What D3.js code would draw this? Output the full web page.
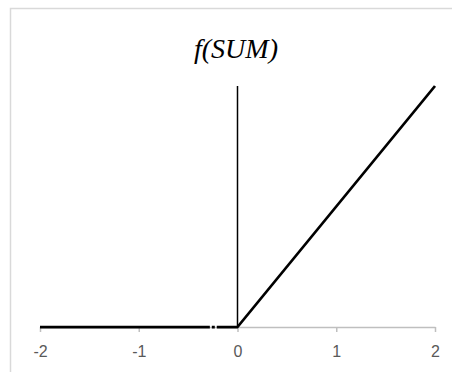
<!DOCTYPE html>
<html>
<head>
<meta charset="utf-8">
<script src="https://cdn.jsdelivr.net/npm/d3@7"></script>
<style>
  body { margin: 0; background: #fff; }
</style>
</head>
<body>
<div id="container"></div>
<script>
let w = 452;
let h = 372;

// data
let sumValues = [-2, -0.28, null, -0.26, -0.23, null, -0.21, 0, 1, 2];
let fValues   = [0, 0, null, 0, 0, null, 0, 0, 1, 2];
let axisLineX = [0, 0];
let axisLineY = [0, 2];
let xTicks = [-2, -1, 0, 1, 2];
let chartTitle = "f(SUM)";

let viz = d3.select("#container")
  .append("svg")
    .attr("width", w)
    .attr("height", h)
;

// chart border (runs off the right and bottom)
viz.append("rect")
  .attr("x", 10.5)
  .attr("y", 8.5)
  .attr("width", 460)
  .attr("height", 380)
  .attr("fill", "white")
  .attr("stroke", "#d9d9d9")
  .attr("stroke-width", 1.5)
;

let xScale = d3.scaleLinear().domain([-2, 2]).range([40, 435]);
let yScale = d3.scaleLinear().domain([0, 2]).range([327, 86]);

// x axis
let xAxis = d3.axisBottom(xScale)
  .tickValues(xTicks)
  .tickSize(5)
  .tickSizeOuter(0)
  .tickPadding(14)
  .tickFormat(function(d){ return d < 0 ? "-" + Math.abs(d) : String(d); });
let xAxisGroup = viz.append("g").attr("class", "xaxis")
  .attr("transform", "translate(0," + yScale(0) + ")")
  .attr("font-size", 16)
  .attr("font-family", "'Liberation Sans', Arial, sans-serif")
  .call(xAxis);
xAxisGroup.attr("font-size", 16).attr("font-family", "'Liberation Sans', Arial, sans-serif");
xAxisGroup.selectAll("path, line").attr("stroke", "#bfbfbf").attr("stroke-width", 1.5);
xAxisGroup.selectAll("text")
  .style("font-size", "16px")
  .style("fill", "#595959");

// vertical line at zero
let vLine = d3.line()
  .x(function(d, i){ return xScale(axisLineX[i]); })
  .y(function(d){ return yScale(d); });
viz.append("path")
  .attr("d", vLine(axisLineY))
  .attr("fill", "none")
  .attr("stroke", "black")
  .attr("stroke-width", 1.5);

// function line
let fLine = d3.line()
  .defined(function(d, i){ return d !== null && fValues[i] !== null; })
  .x(function(d){ return xScale(d); })
  .y(function(d, i){ return yScale(fValues[i]); });
viz.append("path")
  .attr("d", fLine(sumValues))
  .attr("fill", "none")
  .attr("stroke", "black")
  .attr("stroke-width", 2.75)
  .attr("stroke-linejoin", "round");

// title
viz.append("text")
  .attr("x", 236)
  .attr("y", 58)
  .attr("text-anchor", "middle")
  .attr("font-family", "'Liberation Serif', 'Times New Roman', serif")
  .attr("font-style", "italic")
  .attr("font-size", "28px")
  .attr("fill", "black")
  .text(chartTitle);
</script>
</body>
</html>
